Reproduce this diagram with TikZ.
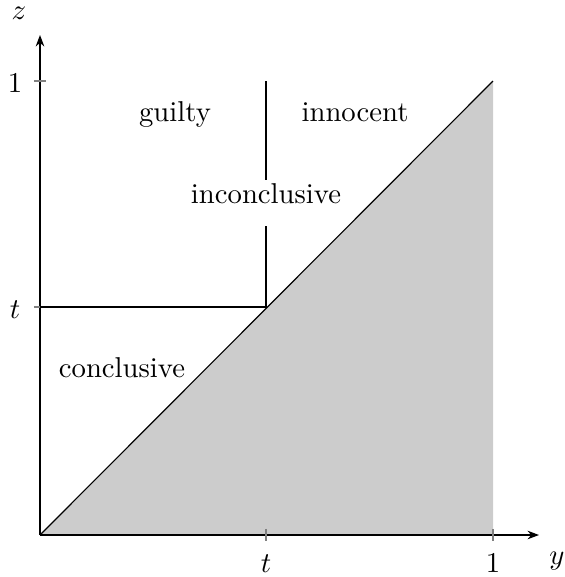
\documentclass[tikz,border=0pt]{standalone}
\usetikzlibrary{arrows.meta}
\begin{document}
\begin{tikzpicture}[x=0.3484pt,y=-0.3484pt,
  axisline/.style={draw=black,-{Stealth[length=4pt,width=3pt]}},
  tickmark/.style={draw=gray,line width=0.4pt},
  region/.style={anchor=base,inner sep=0pt},
  ticklabel/.style={anchor=base,inner sep=0pt},
  gap/.style={anchor=base,fill=white,inner xsep=2pt,inner ysep=1pt,text height=7pt,text depth=7pt}]
\useasboundingbox (0,0) rectangle (565,577);
% coordinates
\coordinate (O) at (40,535);
\coordinate (X1) at (493,535);
\coordinate (D1) at (493,81);
\coordinate (T) at (266,307);
\coordinate (Tx) at (266,535);
\coordinate (Ty) at (40,307);
\coordinate (Y1) at (40,81);
\coordinate (Vtop) at (266,81);
\coordinate (Xend) at (539,535);
\coordinate (Yend) at (40,35);
% shaded region
\fill[gray!40] (O) -- (X1) -- (D1) -- cycle;
% axes
\draw[axisline] (O) -- (Xend);
\draw[axisline] (O) -- (Yend);
% ticks
\draw[tickmark] ([yshift=2.1pt]Tx) -- ([yshift=-2.1pt]Tx);
\draw[tickmark] ([yshift=2.1pt]X1) -- ([yshift=-2.1pt]X1);
\draw[tickmark] ([xshift=-2.1pt]Ty) -- ([xshift=2.1pt]Ty);
\draw[tickmark] ([xshift=-2.1pt]Y1) -- ([xshift=2.1pt]Y1);
% lines
\draw (O) -- (D1);
\draw (Ty) -- (T) -- (Vtop);
% labels
\node[gap] (inc) at (266,203) {inconclusive};
\node[region] (guilty) at (175,121) {guilty};
\node[region] (innocent) at (355,121) {innocent};
\node[region] (concl) at (122,377) {conclusive};
\node[ticklabel] (lt) at (15,318) {$t$};
\node[ticklabel] (l1) at (15,92) {$1$};
\node[ticklabel] (bt) at (266,572) {$t$};
\node[ticklabel] (b1) at (493,572) {$1$};
\node[ticklabel] (ylab) at (557,564) {$y$};
\node[ticklabel] (zlab) at (19,19) {$z$};
\end{tikzpicture}
\end{document}
